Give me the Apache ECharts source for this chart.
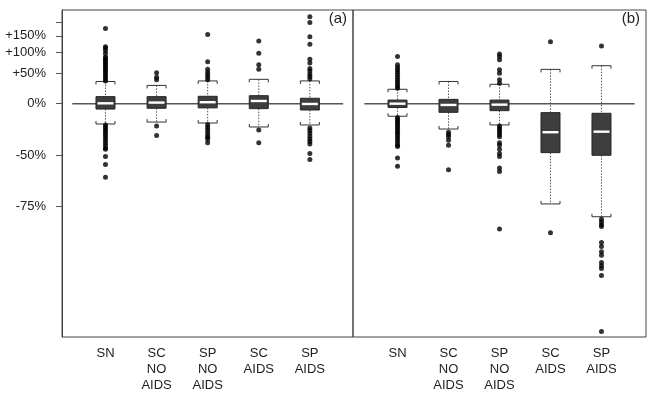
<!DOCTYPE html>
<html>
<head>
<meta charset="utf-8">
<script src="https://cdn.jsdelivr.net/npm/echarts@6/dist/echarts.min.js"></script>
<style>html,body{margin:0;padding:0;background:#fff;}#c{width:653px;height:402px;}</style>
</head>
<body>
<div id="c"></div>
<script>
// ---- Data (percent change) ----
const categories = ['SN', 'SC\nNO\nAIDS', 'SP\nNO\nAIDS', 'SC\nAIDS', 'SP\nAIDS'];
const yTickValues = [200, 150, 100, 50, 0, -50, -75];
const yLabelValues = [150, 100, 50, 0, -50, -75];
const yLabelTexts = ['+150%', '+100%', '+50%', '0%', '-50%', '-75%'];

// [whisker low, Q1, median, Q3, whisker high]
const boxesA = [
  [-24, -7, 0.5, 10, 35],
  [-22, -6, 1.5, 10, 28],
  [-23, -5.5, 2, 10.5, 36],
  [-27, -6.5, 3.7, 11.4, 39],
  [-25, -8.2, -0.4, 7.6, 36]
];
const boxesB = [
  [-15.6, -5, 0, 5, 21.5],
  [-29, -11, -1.7, 6, 35],
  [-25, -9, -1.3, 5, 30],
  [-74.2, -48.4, -32, -11.4, 59],
  [-78.3, -50.2, -31.5, -12.2, 67]
];

const outliersA = [
  [36, 40, 44, 48, 52, 56, 60, 64, 68, 72, 76, 80, 84, 88, 97, 105, 112, 116, 176,
   -25, -27, -29, -31, -33, -35, -37, -39, -41, -43, -45, -46, -51, -56, -63],
  [52, 43, 38, -26, -35],
  [155, 76, 59, 53, 48, 43, 38, -24.5, -27, -29.5, -32, -34.5, -36.5, -38, -41],
  [133, 98, 69, 59, -30, -41],
  [224, 200, 147, 123, 82, 73, 61, 56, 50, 45, 40, -28, -30.5, -33, -35.5, -38, -40, -42, -49, -53]
];
const outliersB = [
  [89, 69, 63, 58, 53, 48, 43, 38, 34, 30, 26, 23,
   -17, -19, -21, -23, -25, -27, -29, -31, -33, -35, -37, -39, -41, -43, -44, -52, -57],
  [-32, -34, -36, -39, -43, -59],
  [96, 89, 81, 58, 51, 38, 32, -26, -28, -30, -32, -34, -36, -41, -43, -46, -49, -51, -58, -60, -81.6],
  [131, -82.5],
  [118, -79, -79.8, -80.5, -81, -84.7, -85.5, -86.5, -87.1, -88.3, -88.8, -89.2, -90.2, -95.4]
];

// ---- Helpers ----
const toLn = p => Math.log(1 + p / 100);
const Y_MIN = -3.153, Y_MAX = 1.266;
const FONT = 'Liberation Sans, Arial, Helvetica, sans-serif';

function boxRender(params, api) {
  const x = api.value(0);
  const low = api.coord([x, api.value(1)]);
  const q1 = api.coord([x, api.value(2)]);
  const med = api.coord([x, api.value(3)]);
  const q3 = api.coord([x, api.value(4)]);
  const high = api.coord([x, api.value(5)]);
  const cx = q1[0];
  const hw = 9.5;
  const capH = 3;
  const wStyle = {stroke: '#555', lineWidth: 1, lineDash: [1.5, 1.5], fill: null};
  const cStyle = {stroke: '#333', lineWidth: 1, fill: null};
  return {
    type: 'group',
    children: [
      {type: 'line', shape: {x1: cx, y1: high[1], x2: cx, y2: q3[1]}, style: wStyle},
      {type: 'line', shape: {x1: cx, y1: q1[1], x2: cx, y2: low[1]}, style: wStyle},
      {type: 'polyline', shape: {points: [[cx - hw, high[1] + capH], [cx - hw, high[1]], [cx + hw, high[1]], [cx + hw, high[1] + capH]]}, style: cStyle},
      {type: 'polyline', shape: {points: [[cx - hw, low[1] - capH], [cx - hw, low[1]], [cx + hw, low[1]], [cx + hw, low[1] - capH]]}, style: cStyle},
      {type: 'rect', shape: {x: cx - hw, y: q3[1], width: hw * 2, height: q1[1] - q3[1]}, style: {fill: '#3d3d3d', stroke: '#262626', lineWidth: 1}},
      {type: 'rect', shape: {x: cx - hw + 1.5, y: med[1] - 1.2, width: hw * 2 - 3, height: 2.4}, style: {fill: '#ffffff'}}
    ]
  };
}

function boxData(boxes) {
  return boxes.map((b, i) => [i + 1].concat(b.map(toLn)));
}
function outlierData(outs) {
  const d = [];
  outs.forEach((arr, i) => arr.forEach(v => d.push([i + 1, toLn(v)])));
  return d;
}

const xAxisCommon = (min, max, idx) => ({
  type: 'value', gridIndex: idx, min: min, max: max,
  axisLine: {show: false}, axisTick: {show: false}, splitLine: {show: false},
  axisLabel: {
    customValues: [1, 2, 3, 4, 5],
    formatter: v => categories[Math.round(v) - 1] || '',
    fontFamily: FONT, fontSize: 13, color: '#222', lineHeight: 16, margin: 8, align: 'center'
  }
});

const option = {
  animation: false,
  backgroundColor: '#fff',
  grid: [
    {left: 62, top: 10, width: 291, height: 327, show: true, borderColor: '#444', borderWidth: 1, backgroundColor: 'transparent'},
    {left: 353, top: 10, width: 293, height: 327, show: true, borderColor: '#444', borderWidth: 1, backgroundColor: 'transparent'}
  ],
  xAxis: [
    xAxisCommon(0.149, 5.844, 0),
    xAxisCommon(0.127, 5.873, 1)
  ],
  yAxis: [
    {
      type: 'value', gridIndex: 0, min: Y_MIN, max: Y_MAX,
      splitLine: {show: false},
      axisLine: {show: true, lineStyle: {color: '#444', width: 1}},
      axisTick: {show: true, inside: false, length: 6, customValues: yTickValues.map(toLn), lineStyle: {color: '#555'}},
      axisLabel: {
        customValues: yLabelValues.map(toLn),
        formatter: v => {
          let best = 0, bd = 1e9;
          yLabelValues.forEach((p, i) => { const d = Math.abs(toLn(p) - v); if (d < bd) { bd = d; best = i; } });
          return yLabelTexts[best];
        },
        fontFamily: FONT, fontSize: 13, color: '#222', margin: 16
      }
    },
    {type: 'value', gridIndex: 1, min: Y_MIN, max: Y_MAX, show: false}
  ],
  graphic: [
    {type: 'text', right: 653 - 347, top: 11, style: {text: '(a)', font: '15px ' + FONT, fill: '#222'}},
    {type: 'text', right: 653 - 640, top: 11, style: {text: '(b)', font: '15px ' + FONT, fill: '#222'}}
  ],
  series: [
    {type: 'line', xAxisIndex: 0, yAxisIndex: 0, data: [[0.35, 0], [5.65, 0]], symbol: 'none', lineStyle: {color: '#555', width: 1.5}, z: 1, silent: true},
    {type: 'line', xAxisIndex: 1, yAxisIndex: 1, data: [[0.35, 0], [5.65, 0]], symbol: 'none', lineStyle: {color: '#555', width: 1.5}, z: 1, silent: true},
    {type: 'custom', xAxisIndex: 0, yAxisIndex: 0, renderItem: boxRender, data: boxData(boxesA), z: 3, encode: {x: 0, y: [1, 2, 3, 4, 5]}},
    {type: 'custom', xAxisIndex: 1, yAxisIndex: 1, renderItem: boxRender, data: boxData(boxesB), z: 3, encode: {x: 0, y: [1, 2, 3, 4, 5]}},
    {type: 'scatter', xAxisIndex: 0, yAxisIndex: 0, data: outlierData(outliersA), symbolSize: 5, itemStyle: {color: '#000'}, z: 4},
    {type: 'scatter', xAxisIndex: 1, yAxisIndex: 1, data: outlierData(outliersB), symbolSize: 5, itemStyle: {color: '#000'}, z: 4}
  ]
};

const chart = echarts.init(document.getElementById('c'), null, {renderer: 'canvas'});
chart.setOption(option);
</script>
</body>
</html>
